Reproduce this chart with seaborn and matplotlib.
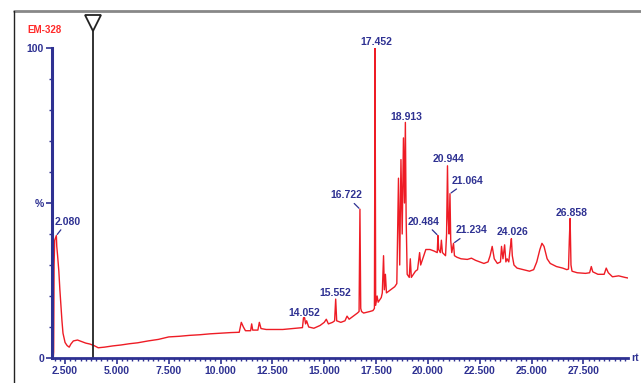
import numpy as np
import matplotlib
matplotlib.use("Agg")
import matplotlib.pyplot as plt
import seaborn as sns
from matplotlib.lines import Line2D
from matplotlib.ticker import MultipleLocator, FixedLocator, FixedFormatter

# --- chromatogram data (rt in min, intensity in %) ---
rt = [1.93, 1.95, 1.97, 2.00, 2.08, 2.10, 2.14, 2.20, 2.25, 2.30, 2.35, 2.40,
      2.50, 2.60, 2.70, 2.78, 2.90, 3.10, 3.30, 3.50, 3.70, 3.90, 4.10, 4.40,
      4.80, 5.20, 5.60, 6.00, 6.50, 7.00, 7.50, 8.00, 8.50, 9.00, 9.50, 10.00,
      10.50, 10.90, 11.00, 11.10, 11.20, 11.45, 11.50, 11.55, 11.80, 11.87,
      11.95, 12.20, 12.60, 13.00, 13.50, 13.95, 14.00, 14.052, 14.10, 14.15,
      14.25, 14.50, 14.80, 15.00, 15.10, 15.20, 15.40, 15.50, 15.552, 15.60,
      15.80, 16.00, 16.10, 16.20, 16.40, 16.60, 16.68, 16.722, 16.76, 16.80,
      16.90, 17.20, 17.35, 17.42, 17.452, 17.48, 17.55, 17.60, 17.75, 17.80,
      17.86, 17.90, 17.95, 18.00, 18.20, 18.40, 18.50, 18.58, 18.64, 18.70,
      18.76, 18.82, 18.87, 18.913, 18.95, 19.00, 19.10, 19.15, 19.20, 19.30,
      19.40, 19.50, 19.60, 19.65, 19.75, 19.90, 20.10, 20.30, 20.45, 20.484,
      20.52, 20.60, 20.65, 20.70, 20.85, 20.90, 20.944, 20.98, 21.02, 21.064,
      21.10, 21.15, 21.234, 21.28, 21.40, 21.60, 21.90, 22.10, 22.30, 22.50,
      22.70, 22.90, 23.00, 23.10, 23.20, 23.35, 23.50, 23.55, 23.62, 23.70,
      23.76, 23.82, 23.90, 23.98, 24.026, 24.07, 24.15, 24.30, 24.60, 24.90,
      25.10, 25.25, 25.40, 25.50, 25.60, 25.75, 25.90, 26.20, 26.50, 26.70,
      26.78, 26.82, 26.858, 26.90, 26.95, 27.20, 27.60, 27.80, 27.88, 27.95,
      28.20, 28.50, 28.60, 28.70, 28.90, 29.20, 29.50, 29.65]
intensity = [0, 2, 30, 38, 39.5, 36, 33, 28, 22, 17, 12, 8,
             5, 4, 3.5, 4.5, 5.5, 5.8, 5.3, 4.8, 4.5, 4.0, 3.3, 3.5,
             3.9, 4.2, 4.6, 4.9, 5.5, 6.0, 6.8, 7.0, 7.3, 7.5, 7.8, 8.0,
             8.2, 8.3, 11.5, 10, 8.8, 8.8, 11, 9, 9, 11.5,
             9.5, 9.2, 9.2, 9.2, 9.5, 9.8, 13, 13, 11, 12,
             10, 9.6, 10.5, 11.5, 12.5, 11, 11.5, 12, 19, 12,
             11.5, 12, 13.5, 12.5, 13.5, 14.5, 15, 48, 16, 15,
             14.5, 15, 15.3, 16, 100, 17, 20, 18, 19.5, 21,
             33, 22, 27, 21, 22, 23, 24, 58, 30, 64,
             40, 71, 50, 76, 45, 27, 26, 32, 26, 27,
             28, 28.5, 34, 30, 32, 35, 35, 34.5, 34, 39.5,
             35, 34, 38, 34, 33, 40, 62, 45, 40, 53,
             38, 34, 37, 33, 32.5, 32, 31.8, 32.2, 31.5, 31,
             30.5, 31, 33, 36, 32, 30.5, 31, 36, 32, 36.5,
             31, 32, 31, 36, 38.5, 33, 30, 29, 28.5, 28,
             28.5, 31, 35, 37, 36, 32, 30.5, 29.5, 29, 28.5,
             28.7, 38, 45, 30, 28, 27.5, 27.3, 27.5, 29.5, 27.8,
             27, 27, 29, 27.5, 26.2, 26.5, 26, 25.8]

# labelled peaks
peak_rt = [2.080, 14.052, 15.552, 16.722, 17.452, 18.913, 20.484, 20.944,
           21.064, 21.234, 24.026, 26.858]
peak_height = [39.5, 13, 19, 48, 100, 76, 39.5, 62, 53, 37, 38.5, 45]
peak_labels = ["2.080", "14.052", "15.552", "16.722", "17.452", "18.913",
               "20.484", "20.944", "21.064", "21.234", "24.026", "26.858"]

cursor_rt = 3.85
sample_name = "EM-328"

# x tick labels
xtick_vals = [2.5, 5.0, 7.5, 10.0, 12.5, 15.0, 17.5, 20.0, 22.5, 25.0, 27.5]
xtick_labels = ["2.500", "5.000", "7.500", "10.000", "12.500", "15.000",
                "17.500", "20.000", "22.500", "25.000", "27.500"]

NAVY = "#2e3192"
RED = "#ee1c25"

sns.set_style("white")
plt.rcParams["font.family"] = ["Liberation Sans", "DejaVu Sans"]

fig = plt.figure(figsize=(6.41, 3.83), dpi=100)
ax = fig.add_axes([52 / 641, 25 / 383, 576 / 641, 310 / 383])

sns.lineplot(x=rt, y=intensity, ax=ax, color=RED, lw=1.0,
             estimator=None, sort=False)

ax.set_xlim(1.87, 29.65)
ax.set_ylim(0, 100)

# spines
for s in ["top", "right"]:
    ax.spines[s].set_visible(False)
ax.spines["left"].set_color(NAVY)
ax.spines["left"].set_linewidth(2.2)
ax.spines["bottom"].set_color(NAVY)
ax.spines["bottom"].set_linewidth(2.0)

# ticks
ax.xaxis.set_major_locator(FixedLocator(xtick_vals))
ax.xaxis.set_major_formatter(FixedFormatter(xtick_labels))
ax.xaxis.set_minor_locator(MultipleLocator(0.25))
ax.yaxis.set_major_locator(FixedLocator([0, 50, 100]))
ax.yaxis.set_major_formatter(FixedFormatter(["0", "%", "100"]))
ax.yaxis.set_minor_locator(MultipleLocator(10))
ax.tick_params(axis="both", which="major", direction="out", color=NAVY,
               labelcolor=NAVY, labelsize=7.5, width=1.2, length=4.3, pad=1.5)
ax.tick_params(axis="both", which="minor", direction="out", color=NAVY,
               width=1.0, length=2.2)
ax.tick_params(left=True, bottom=True, which="both")
for lab in ax.get_xticklabels() + ax.get_yticklabels():
    lab.set_fontweight("bold")
ax.set_xlabel("")
ax.set_ylabel("")
ax.text(1.006, 0, "rt", transform=ax.transAxes, color=NAVY, fontsize=7.5,
        fontweight="bold", va="center", ha="left")

# peak labels: offsets in pixels (dx, dy) and whether a leader is drawn
offsets = {
    "2.080": (11, 14, True), "14.052": (0, 5, False), "15.552": (0, 6, False),
    "16.722": (-14, 14, True), "17.452": (1, 6, False),
    "18.913": (1, 5.5, False), "20.484": (-14, 14, True),
    "20.944": (1, 7, False), "21.064": (18, 13, True),
    "21.234": (18, 13, True), "24.026": (1, 7, False),
    "26.858": (2, 6, False),
}
for x, h, lab in zip(peak_rt, peak_height, peak_labels):
    dx, dy, leader = offsets[lab]
    arrow = None
    if leader:
        arrow = dict(arrowstyle="-", color=NAVY, lw=0.9, shrinkA=0,
                     shrinkB=1)
    ax.annotate(lab, xy=(x, h), xytext=(dx, dy), textcoords="offset pixels",
                ha="center", va="center", color=NAVY, fontsize=7.5,
                fontweight="bold", arrowprops=arrow, annotation_clip=False)

# cursor line with triangle marker
ax.plot([cursor_rt, cursor_rt], [0, 105.8], color="#222222", lw=1.3,
        clip_on=False)
ax.plot([cursor_rt], [108.2], marker="v", ms=11, mfc="white", mec="#222222",
        mew=1.3, clip_on=False)

# sample name
fig.text(27 / 641, 1 - 30 / 383, sample_name, color="#ff2a2a", fontsize=7,
         fontweight="bold", va="center", ha="left")

# outer frame
fig.add_artist(Line2D([14 / 641, 1], [1 - 11 / 383, 1 - 11 / 383],
                      color="#888888", lw=2.0, transform=fig.transFigure))
fig.add_artist(Line2D([14 / 641, 14 / 641], [0, 1 - 11 / 383],
                      color="#222222", lw=1.0, transform=fig.transFigure))

fig.savefig("out.png", dpi=100)
